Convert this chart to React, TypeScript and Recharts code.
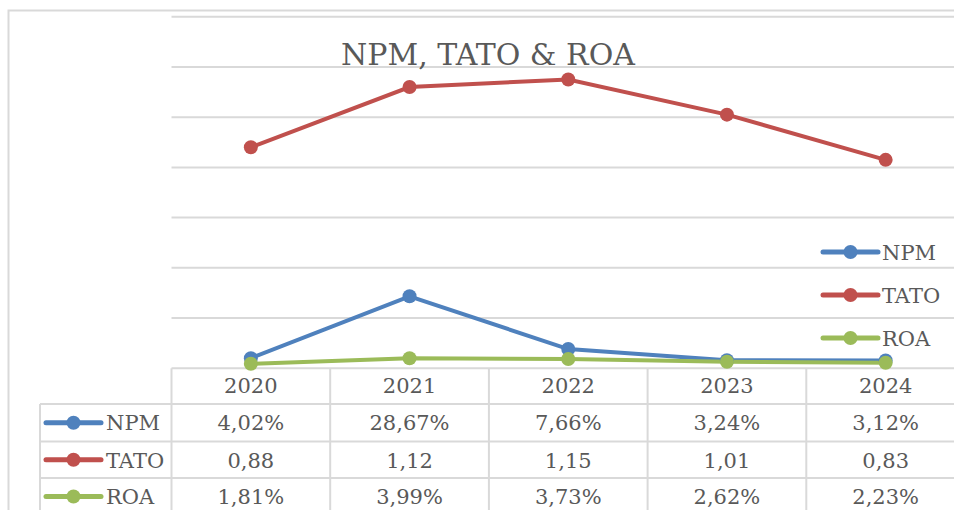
import { ComposedChart, Line, XAxis, YAxis, CartesianGrid } from "recharts";

const YEARS = ["2020", "2021", "2022", "2023", "2024"];
const NPM = [0.0402, 0.2867, 0.0766, 0.0324, 0.0312];
const TATO = [0.88, 1.12, 1.15, 1.01, 0.83];
const ROA = [0.0181, 0.0399, 0.0373, 0.0262, 0.0223];
const Y_TICKS = [0, 0.2, 0.4, 0.6, 0.8, 1.0, 1.2, 1.4];

const pct = (v: number) => (v * 100).toFixed(2).replace(".", ",") + "%";
const dec = (v: number) => v.toFixed(2).replace(".", ",");

const SERIES = [
  { key: "NPM", color: "#4f81bd", values: NPM, fmt: pct },
  { key: "TATO", color: "#c0504d", values: TATO, fmt: dec },
  { key: "ROA", color: "#9bbb59", values: ROA, fmt: pct },
];

const data = YEARS.map((year, i) => ({
  year,
  NPM: NPM[i],
  TATO: TATO[i],
  ROA: ROA[i],
}));

const FONT = "'DejaVu Serif', serif";
const TEXT = "#595959";
const GRID = "#d9d9d9";
const CHART_W = 970;
const CHART_H = 520;
const PLOT_LEFT = 171.5;
const PLOT_RIGHT = 965;
const PLOT_TOP = 16.7;
const PLOT_BOTTOM = 368.3;
const COL_W = (PLOT_RIGHT - PLOT_LEFT) / YEARS.length;
const ROW_Y = [368.3, 404, 441.5, 478, 515];

function TableColumn(props: any) {
  const { x, payload } = props;
  const i = props.index ?? payload.index;
  const left = x - COL_W / 2;
  return (
    <g>
      <line x1={left} x2={left} y1={ROW_Y[0]} y2={CHART_H} stroke={GRID} strokeWidth={2} />
      {i === YEARS.length - 1 && (
        <line x1={left + COL_W} x2={left + COL_W} y1={ROW_Y[0]} y2={CHART_H} stroke={GRID} strokeWidth={2} />
      )}
      <text x={x} y={ROW_Y[0] + 25} textAnchor="middle" fontFamily={FONT} fontSize={21} fill={TEXT}>
        {payload.value}
      </text>
      {SERIES.map((s, r) => (
        <text
          key={s.key}
          x={x}
          y={ROW_Y[r + 1] + 26}
          textAnchor="middle"
          fontFamily={FONT}
          fontSize={21}
          fill={TEXT}
        >
          {s.fmt(s.values[i])}
        </text>
      ))}
    </g>
  );
}

function LegendKey({ x, y, color }: { x: number; y: number; color: string }) {
  return (
    <g>
      <line x1={x} x2={x + 55} y1={y} y2={y} stroke={color} strokeWidth={5} strokeLinecap="round" />
      <circle cx={x + 27.5} cy={y} r={7} fill={color} />
    </g>
  );
}

export default function App() {
  return (
    <div style={{ position: "absolute", left: 0, top: 0, width: 954, height: 510, overflow: "hidden", background: "#fff" }}>
      <svg width={954} height={510} style={{ position: "absolute", left: 0, top: 0 }}>
        <rect x={8.5} y={10.5} width={1000} height={600} fill="none" stroke={GRID} strokeWidth={2} />
      </svg>
      <div style={{ position: "absolute", left: 0, top: 0 }}>
        <ComposedChart
          width={CHART_W}
          height={CHART_H}
          data={data}
          margin={{ top: PLOT_TOP, right: CHART_W - PLOT_RIGHT, bottom: 0, left: PLOT_LEFT }}
        >
          <CartesianGrid vertical={false} stroke={GRID} strokeWidth={2} />
          <XAxis
            dataKey="year"
            height={CHART_H - PLOT_BOTTOM}
            axisLine={false}
            tickLine={false}
            tick={<TableColumn />}
            interval={0}
            padding={{ left: COL_W / 2, right: COL_W / 2 }}
          />
          <YAxis hide domain={[0, 1.4]} ticks={Y_TICKS} />
          {SERIES.map((s) => (
            <Line
              key={s.key}
              dataKey={s.key}
              stroke={s.color}
              strokeWidth={4}
              dot={{ r: 7, fill: s.color, stroke: s.color, strokeWidth: 0 }}
              isAnimationActive={false}
            />
          ))}
        </ComposedChart>
      </div>
      <svg width={954} height={510} style={{ position: "absolute", left: 0, top: 0, pointerEvents: "none" }}>
        <text x={488} y={65} textAnchor="middle" fontFamily={FONT} fontSize={30} fill={TEXT}>
          NPM, TATO &amp; ROA
        </text>
        {ROW_Y.slice(1, 4).map((y) => (
          <line key={y} x1={40} x2={PLOT_RIGHT} y1={y} y2={y} stroke={GRID} strokeWidth={2} />
        ))}
        <line x1={40} x2={40} y1={ROW_Y[1]} y2={CHART_H} stroke={GRID} strokeWidth={2} />
        {SERIES.map((s, r) => {
          const cy = (ROW_Y[r + 1] + ROW_Y[r + 2]) / 2;
          return (
            <g key={s.key}>
              <LegendKey x={46} y={cy} color={s.color} />
              <text x={106} y={ROW_Y[r + 1] + 26} fontFamily={FONT} fontSize={21} fill={TEXT}>
                {s.key}
              </text>
            </g>
          );
        })}
        {SERIES.map((s, r) => {
          const cy = 252 + r * 43;
          return (
            <g key={"lg" + s.key}>
              <LegendKey x={823} y={cy} color={s.color} />
              <text x={882} y={cy + 8} fontFamily={FONT} fontSize={21} fill={TEXT}>
                {s.key}
              </text>
            </g>
          );
        })}
      </svg>
    </div>
  );
}
